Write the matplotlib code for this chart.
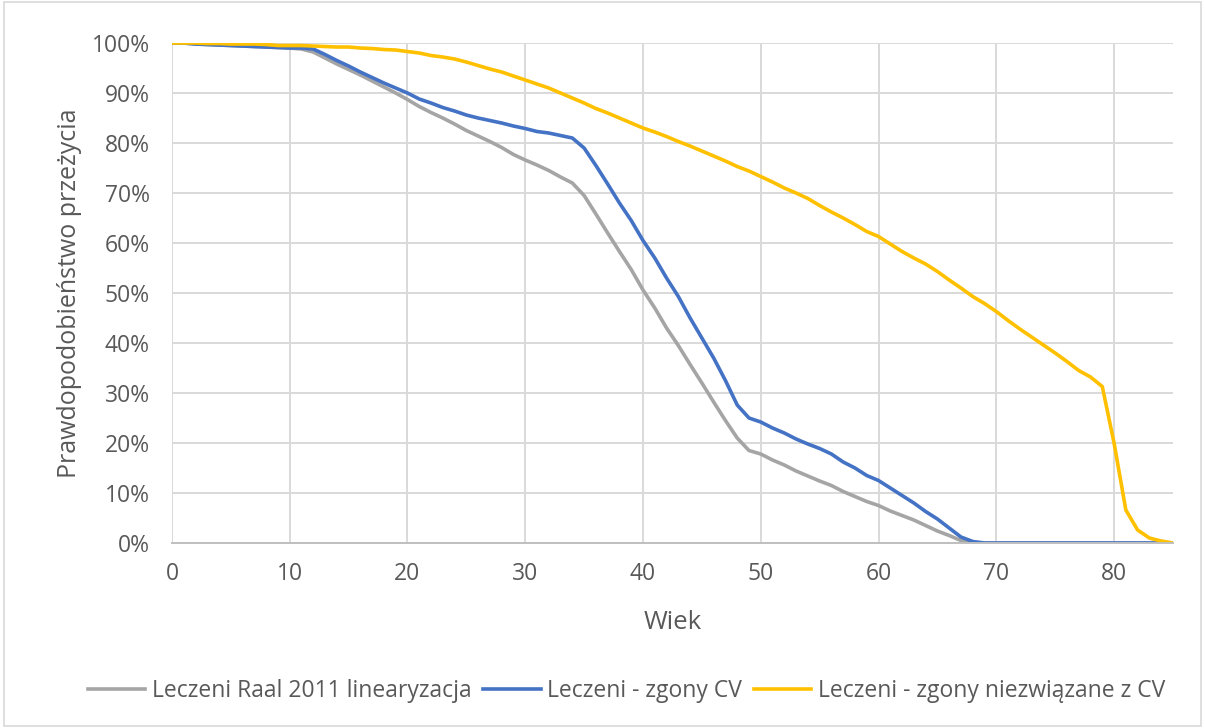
import numpy as np
import matplotlib.pyplot as plt
from matplotlib.patches import Rectangle
from matplotlib.ticker import PercentFormatter

plt.rcParams['font.family'] = ['Open Sans', 'DejaVu Sans']

# ages 0..85
wiek = np.arange(0, 86)

raal = [100, 100, 99.8, 99.7, 99.6, 99.5, 99.4, 99.3, 99.2, 99.1,
        99.0, 98.8, 98.2, 97.0, 95.8, 94.7, 93.6, 92.4, 91.2, 90.0,
        88.7, 87.3, 86.1, 85.0, 83.8, 82.5, 81.4, 80.3, 79.1, 77.7,
        76.6, 75.6, 74.5, 73.2, 72.0, 69.5, 65.8, 62.0, 58.3, 54.7,
        50.6, 47.0, 43.0, 39.5, 35.7, 32.0, 28.2, 24.5, 21.0, 18.5,
        17.8, 16.6, 15.6, 14.4, 13.4, 12.4, 11.5, 10.3, 9.3, 8.3,
        7.5, 6.4, 5.5, 4.6, 3.5, 2.4, 1.5, 0.5, 0, 0,
        0, 0, 0, 0, 0, 0, 0, 0, 0, 0,
        0, 0, 0, 0, 0, 0]

zgony_cv = [100, 100, 99.8, 99.7, 99.6, 99.5, 99.4, 99.3, 99.2, 99.1,
            99.0, 99.0, 98.8, 97.7, 96.5, 95.4, 94.2, 93.1, 92.0, 91.0,
            90.0, 88.8, 88.0, 87.1, 86.4, 85.6, 85.0, 84.5, 84.0, 83.4,
            82.9, 82.3, 82.0, 81.5, 81.0, 79.0, 75.5, 71.8, 68.0, 64.5,
            60.5, 57.0, 53.0, 49.3, 45.0, 41.0, 37.0, 32.5, 27.6, 25.0,
            24.2, 23.0, 22.0, 20.8, 19.8, 18.9, 17.8, 16.2, 15.0, 13.5,
            12.5, 11.0, 9.5, 8.0, 6.3, 4.8, 3.0, 1.2, 0.3, 0,
            0, 0, 0, 0, 0, 0, 0, 0, 0, 0,
            0, 0, 0, 0, 0, 0]

zgony_inne = [100, 100, 100, 99.9, 99.9, 99.8, 99.8, 99.8, 99.7, 99.5,
              99.5, 99.5, 99.4, 99.3, 99.2, 99.2, 99.0, 98.9, 98.7, 98.6,
              98.3, 98.0, 97.5, 97.2, 96.8, 96.2, 95.5, 94.8, 94.2, 93.4,
              92.6, 91.8, 91.0, 90.0, 89.0, 88.0, 86.9, 86.0, 85.0, 84.0,
              83.0, 82.2, 81.3, 80.3, 79.4, 78.4, 77.4, 76.4, 75.3, 74.4,
              73.3, 72.2, 71.0, 70.0, 68.9, 67.5, 66.2, 65.0, 63.7, 62.3,
              61.3, 59.8, 58.3, 57.0, 55.8, 54.3, 52.6, 51.0, 49.3, 47.9,
              46.3, 44.5, 42.8, 41.2, 39.6, 38.0, 36.3, 34.5, 33.2, 31.3,
              20.0, 6.6, 2.6, 1.0, 0.4, 0]

series = [
    ("Leczeni Raal 2011 linearyzacja", raal, "#a5a5a5"),
    ("Leczeni - zgony CV", zgony_cv, "#4472c4"),
    ("Leczeni - zgony niezwiązane z CV", zgony_inne, "#ffc000"),
]

txt = "#595959"
grid = "#d9d9d9"

fig = plt.figure(figsize=(12.05, 7.28), dpi=100)
ax = fig.add_axes([0.1427, 0.2541, 0.8307, 0.6868])

for name, vals, col in series:
    ax.plot(wiek, vals, color=col, lw=2.6, label=name, solid_joinstyle='round')

ax.set_xlim(0, 85)
ax.set_ylim(0, 100)
ax.set_xticks(range(0, 81, 10))
ax.set_yticks(range(0, 101, 10))
ax.yaxis.set_major_formatter(PercentFormatter(decimals=0))
ax.grid(True, color=grid, lw=1.4)
ax.set_axisbelow(True)
for s in ["top", "right", "left"]:
    ax.spines[s].set_visible(False)
ax.spines["bottom"].set_color("#bfbfbf")
ax.spines["bottom"].set_linewidth(1.4)
ax.tick_params(length=0, labelsize=16.5, labelcolor=txt)
ax.tick_params(axis="x", pad=14)
ax.tick_params(axis="y", pad=16)

ax.set_xlabel("Wiek", fontsize=18.5, color=txt, labelpad=17)
ax.set_ylabel("Prawdopodobieństwo przeżycia", fontsize=18, color=txt, labelpad=7)

fig.legend(loc="center", bbox_to_anchor=(0.52, 0.051), ncol=3, frameon=False,
           fontsize=16.5, labelcolor=txt, handlelength=2.5, columnspacing=0.5,
           handletextpad=0.3)

fig.patches.append(Rectangle((0.003, 0.003), 0.994, 0.994, transform=fig.transFigure,
                             fill=False, edgecolor=grid, lw=1.2))

fig.savefig("out.png", dpi=100)
